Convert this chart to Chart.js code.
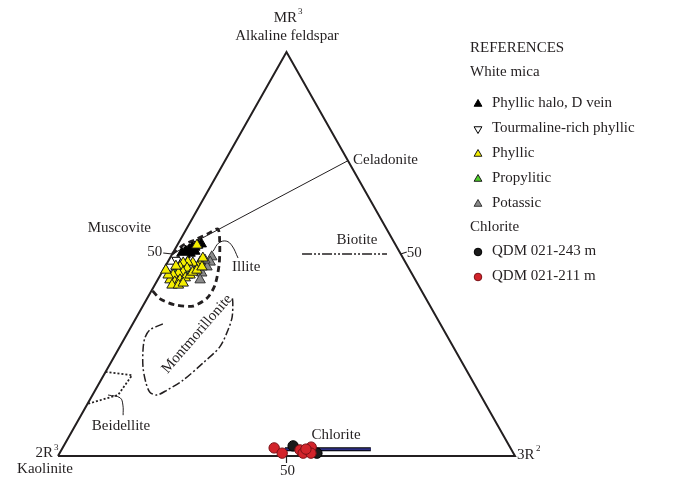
<!DOCTYPE html>
<html><head><meta charset="utf-8">
<script src="https://cdn.jsdelivr.net/npm/chart.js@4.4.1/dist/chart.umd.min.js"></script>
<style>html,body{margin:0;padding:0;background:#fff}#wrap{width:677px;height:477px;position:relative}</style>
</head><body><div id="wrap"><canvas id="c"></canvas></div>
<script>
// All compositions given as [MR3 %, 3R2 %]; 2R3 % = 100 - MR3 - 3R2
const frame = [[0,0],[0,100],[100,0],[0,0]];            // 2R3 -> 3R2 -> MR3 -> 2R3
const muscCeladonite = [[50,0],[73.1,26.9]];
const biotite = [[50,28.4],[50,47.0]];
const chloriteBar = [[1.7,48.8],[1.7,67.6]];
const illite = [[50,0],[52.2,1.3],[53.5,3.2],[55.0,5.3],[56.2,6.9],[52.2,9.3],[47.3,11.6],[42.3,13.2],[39.1,13.1],[37.1,11.0],[37.4,6.9],[38.9,2.9],[41.1,0]];
const montmorillonite = [[32.7,6.6],[31.2,4.5],[29.2,4.4],[26.2,5.5],[22.0,7.6],[18.1,10.2],[15.8,12.2],[15.1,14.1],[16.3,15.7],[18.8,18.0],[23.0,20.2],[27.0,21.9],[31.2,21.6],[34.4,20.9],[37.9,19.3],[39.6,18.3]];
const beidellite = [[20.8,0],[20.0,6.2],[15.1,5.6],[12.9,0]];
const illiteLeader = [[49.0,14.9],[52.0,12.1],[53.2,10.2],[52.7,8.8],[50.7,8.6]];
const beidelliteLeader = [[15.1,3.4],[14.4,6.4],[12.6,7.9],[10.1,9.2]];

const phyllicHalo = [[50.2,2.0],[50.7,2.6],[51.0,3.2],[51.5,3.6],[51.7,4.1],[52.2,4.5],[52.5,5.1],[49.8,2.9],[50.2,3.8],[50.7,4.6]];
const tourmaline = [[48.5,1.7],[46.8,1.1],[46.5,5.6],[49.0,2.9]];
const phyllic = [[52.2,4.3],[48.0,7.1],[49.0,7.2],[46.8,7.2],[47.8,5.6],[48.0,4.4],[47.8,3.5],[46.8,3.3],[46.5,5.0],[45.5,4.6],[45.3,3.7],[44.8,2.8],[43.6,2.7],[43.1,4.0],[43.6,4.9],[44.1,5.8],[44.8,6.5],[45.5,6.7],[44.8,1.7],[42.3,3.8],[42.3,5.2],[42.8,6.0],[46.0,7.4],[46.8,8.1],[47.0,2.3],[46.0,0.6]];
const propylitic = [[47.3,3.5],[44.8,6.0],[46.0,3.0]];
const potassic = [[49.3,9.0],[48.0,9.3],[46.8,9.2],[48.5,7.9],[45.3,8.8],[43.6,9.3]];
const qdm243 = [[2.5,50.2],[0.7,56.3]];
const qdm211 = [[2.0,46.3],[0.7,48.7],[1.5,52.2],[0.7,53.3],[2.2,54.3],[0.7,55.0],[1.7,53.4]];

const legendHeaders = ['REFERENCES','White mica','Chlorite'];
const legendMica = ['Phyllic halo, D vein','Tourmaline-rich phyllic','Phyllic','Propylitic','Potassic'];
const legendChlorite = ['QDM 021-243 m','QDM 021-211 m'];

const H = 404/457;
const toXY = p => ({x: p[1]/100 + p[0]/200, y: p[0]/100*H});
const pts = arr => arr.map(toXY);

function lineDs(data, color, width, dash, tension, order){
  return {data: pts(data), showLine:true, pointRadius:0, borderColor:color, borderWidth:width,
    borderDash:dash||[], tension:tension||0, fill:false, order:order||10, clip:false, borderCapStyle:'butt'};
}
const markerStyles = [
  {pointStyle:'triangle', rotation:0, bg:'#000000', bd:'#000000'},
  {pointStyle:'triangle', rotation:180, bg:'#ffffff', bd:'#000000'},
  {pointStyle:'triangle', rotation:0, bg:'#f4ee00', bd:'#1a1a1a'},
  {pointStyle:'triangle', rotation:0, bg:'#4fd12a', bd:'#1a1a1a'},
  {pointStyle:'triangle', rotation:0, bg:'#8a8a8a', bd:'#333333'},
  {pointStyle:'circle', rotation:0, bg:'#1a1a1a', bd:'#000000'},
  {pointStyle:'circle', rotation:0, bg:'#d2232a', bd:'#7a1015'}
];
function ptDs(data, k, r){
  const s = markerStyles[k];
  return {data: pts(data), showLine:false, pointStyle:s.pointStyle, pointRotation:s.rotation,
    pointRadius:r, backgroundColor:s.bg, borderColor:s.bd, pointBorderWidth:1, order:k===0?2:1, clip:false};
}

const datasets = [
  ptDs(phyllic,2,6), ptDs(phyllicHalo,0,6), ptDs(tourmaline,1,5.5), ptDs(propylitic,3,6), ptDs(potassic,4,6),
  ptDs(qdm211,6,5.2), ptDs(qdm243,5,5.2),
  lineDs(frame,'#231f20',2,[],0,10),
  lineDs(muscCeladonite,'#231f20',1,[],0,10),
  lineDs(biotite,'#231f20',1.6,[10,2,2,2,2,2],0,10),
  lineDs(illite,'#231f20',2.8,[6,4],0.25,10),
  lineDs(montmorillonite,'#231f20',1.5,[8,2.5,2,2.5],0.3,10),
  lineDs(beidellite,'#231f20',1.8,[2,2],0,10),
  lineDs(illiteLeader,'#231f20',1,[],0.4,10),
  lineDs(beidelliteLeader,'#231f20',1,[],0.4,10),
  lineDs(chloriteBar,'#2d2e83',2,[],0,5),
  lineDs(chloriteBar,'#000000',4,[],0,6)
];

function drawMarker(ctx, k, x, y, r){
  const s = markerStyles[k];
  ctx.save();
  ctx.fillStyle = s.bg; ctx.strokeStyle = s.bd; ctx.lineWidth = 1;
  ctx.beginPath();
  if (s.pointStyle === 'circle') { ctx.arc(x, y, r, 0, Math.PI*2); }
  else {
    const rot = s.rotation*Math.PI/180;
    for (let i=0;i<3;i++){ const a = rot + i*2*Math.PI/3; const px = x + Math.sin(a)*r, py = y - Math.cos(a)*r; i?ctx.lineTo(px,py):ctx.moveTo(px,py); }
    ctx.closePath();
  }
  ctx.fill(); ctx.stroke(); ctx.restore();
}

const annot = {
  id:'annot',
  afterDraw(chart){
    const ctx = chart.ctx, sx = chart.scales.x, sy = chart.scales.y;
    const P = p => { const q = toXY(p); return [sx.getPixelForValue(q.x), sy.getPixelForValue(q.y)]; };
    ctx.save();
    ctx.fillStyle = '#231f20'; ctx.strokeStyle = '#231f20';
    const F = s => s + 'px "Liberation Serif", "Times New Roman", serif';
    const txt = (t,x,y,al,sz) => { ctx.font = F(sz||15); ctx.textAlign = al||'left'; ctx.textBaseline = 'middle'; ctx.fillText(t,x,y); };
    // ticks at 50
    const mL = P([50,0]), mR = P([50,50]), mB = P([0,50]);
    ctx.lineWidth = 1.2;
    ctx.beginPath(); ctx.moveTo(mL[0]-9, mL[1]-1); ctx.lineTo(mL[0], mL[1]); ctx.stroke();
    ctx.beginPath(); ctx.moveTo(mR[0], mR[1]); ctx.lineTo(mR[0]+6, mR[1]-2); ctx.stroke();
    ctx.beginPath(); ctx.moveTo(mB[0], mB[1]); ctx.lineTo(mB[0], mB[1]+7); ctx.stroke();
    txt('50', mL[0]-10, mL[1]-2, 'right');
    txt('50', mR[0]+6, mR[1]-1, 'left');
    txt('50', mB[0]+1, mB[1]+15, 'center');
    // vertex labels
    txt('MR', 297, 18, 'right'); txt('3', 298, 12, 'left', 9);
    txt('Alkaline feldspar', 287, 36, 'center');
    txt('2R', 53, 453, 'right'); txt('3', 54, 448, 'left', 9);
    txt('Kaolinite', 45, 469, 'center');
    txt('3R', 517, 455, 'left'); txt('2', 536, 449, 'left', 9);
    // field labels
    txt('Celadonite', 353, 160, 'left');
    txt('Muscovite', 151, 228, 'right');
    txt('Illite', 232, 267, 'left');
    txt('Biotite', 357, 240, 'center');
    txt('Chlorite', 336, 435, 'center');
    txt('Beidellite', 121, 426, 'center');
    ctx.save(); ctx.translate(197, 334); ctx.rotate(-49*Math.PI/180); txt('Montmorillonite', 0, 0, 'center'); ctx.restore();
    // legend
    const lx = 470, mx = 478, tx = 492;
    txt(legendHeaders[0], lx, 48, 'left');
    txt(legendHeaders[1], lx, 72, 'left');
    legendMica.forEach((t,i) => { const y = 103 + i*25; drawMarker(ctx, i, mx, y+1, 4.5); txt(t, tx, y, 'left'); });
    txt(legendHeaders[2], lx, 227, 'left');
    legendChlorite.forEach((t,i) => { const y = 251 + i*25; drawMarker(ctx, 5+i, mx, y+1, 3.8); txt(t, tx, y, 'left'); });
    ctx.restore();
  }
};

new Chart(document.getElementById('c'), {
  type:'scatter',
  data:{datasets},
  options:{
    responsive:true, maintainAspectRatio:false, animation:false, devicePixelRatio:1, events:[],
    layout:{padding:0, autoPadding:false},
    plugins:{legend:{display:false}, tooltip:{enabled:false}},
    scales:{
      x:{type:'linear', min:-58/457, max:619/457, display:false},
      y:{type:'linear', min:-21/457, max:456/457, display:false}
    }
  },
  plugins:[annot]
});
</script></body></html>
